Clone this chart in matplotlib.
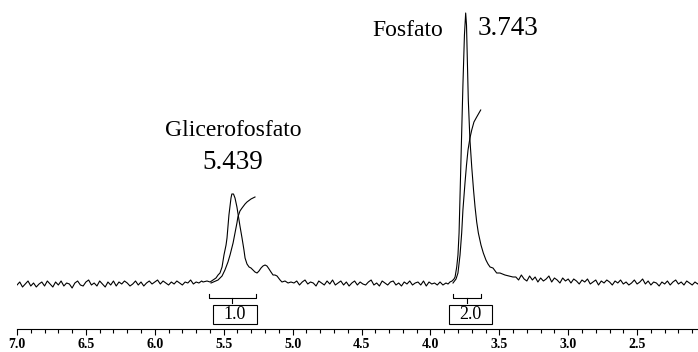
import numpy as np
import matplotlib
matplotlib.use('Agg')
import matplotlib.pyplot as plt
from matplotlib.patches import Rectangle
from matplotlib.ticker import MultipleLocator, FormatStrFormatter

# -----------------------------
# data (intensity in arbitrary units, baseline ~ 0)
# -----------------------------
step = 0.02  # ppm sampling of the flat baseline pieces

# baseline 7.00 -> 5.66 ppm
base_a = [0, 3, -2, 1, 4, -1, 2, -2, 1, 3, -1, 4, 1, -2, 3, 0, 4, -1, 2, 1,
          -3, 2, 4, 0, -1, 3, 5, 0, 2, -1, 4, 1, -2, 3, 0, 4, -1, 3, 1, 4,
          2, -1, 1, 4, 0, 3, -1, 2, 4, 1, 3, 5, 1, 4, 2, 0, 3, 1, 4, 2,
          0, 3, 2, 5, 1, 3, 2, 4]
start_a = 7.0

# glicerofosfato region
glic_ppm = [5.650, 5.621, 5.599, 5.578, 5.556, 5.541, 5.527, 5.512, 5.498, 5.483,
            5.476, 5.462, 5.447, 5.441, 5.429, 5.418, 5.404, 5.397, 5.382, 5.367,
            5.353, 5.345, 5.331, 5.316, 5.302, 5.287, 5.273, 5.258, 5.244, 5.229,
            5.215, 5.200, 5.186, 5.171, 5.157, 5.142, 5.128, 5.113, 5.091, 5.077,
            5.055, 5.033, 5.012]
glic_int = [3, 4, 3, 5, 7, 10, 12, 18, 30, 40,
            47, 70, 87, 91, 91, 87, 78, 72, 59, 47,
            35, 27, 21, 18, 17, 15, 13, 12, 14, 17,
            19, 20, 19, 16, 13, 10, 10, 9, 5, 3,
            4, 2, 3]

# baseline 4.99 -> 3.93 ppm
base_c = [2, 4, 0, 3, 5, 1, 3, 2, -1, 4, 2, 0, 4, 1, 5, 0, 2, 4, 0, 3,
          -1, 2, 4, 0, 3, 1, 0, 3, 5, 0, 2, -1, 4, 2, 0, 3, 4, 0, 2, -1,
          3, 1, 4, 0, 2, 3, 0, 4, -1, 3, 1, 2, 0, 3]
start_c = 4.99

# fosfato region
fosf_ppm = [3.909, 3.887, 3.872, 3.858, 3.843, 3.829, 3.821, 3.809, 3.800, 3.792,
            3.782, 3.773, 3.764, 3.753, 3.744, 3.738, 3.731, 3.725, 3.713, 3.700,
            3.687, 3.676, 3.664, 3.652, 3.633, 3.616, 3.597, 3.582, 3.567, 3.546,
            3.519, 3.495, 3.459, 3.401]
fosf_int = [0, 2, 1, 3, 4, 6, 8, 18, 30, 52,
            105, 152, 200, 250, 272, 260, 220, 185, 145, 118,
            95, 78, 63, 52, 40, 32, 25, 21, 18, 17,
            12, 12, 10, 8]

# baseline 3.38 -> 2.04 ppm
base_e = [8, 5, 10, 6, 4, 9, 5, 8, 3, 7, 4, 6, 9, 3, 7, 5, 2, 7, 4, 6,
          2, 6, 4, 1, 5, 3, 6, 1, 3, 5, 0, 4, 2, 5, 3, 0, 4, 2, 5, 1,
          3, 0, 2, 5, 1, 3, 6, 1, 4, 0, 3, 2, -1, 3, 1, 4, 0, 3, 5, 1,
          3, 0, 4, 2, 0, 3, 1, 4]
start_e = 3.38

# integral curves
integ_glic_ppm = [5.592, 5.541, 5.512, 5.491, 5.469, 5.454, 5.432, 5.418, 5.404, 5.397,
                  5.382, 5.367, 5.345, 5.331, 5.302, 5.273]
integ_glic = [2, 5, 9, 15, 23, 30, 42, 52, 62, 68, 74, 77, 81, 83, 86, 88]
integ_fosf_ppm = [3.836, 3.814, 3.800, 3.785, 3.773, 3.764, 3.749, 3.738, 3.727, 3.713,
                  3.700, 3.684, 3.664, 3.635]
integ_fosf = [2, 6, 12, 30, 52, 75, 102, 120, 135, 147, 155, 163, 168, 175]

# integral regions and values
integ_ranges = [(5.607, 5.266), (3.836, 3.633)]
integ_labels = ['1.0', '2.0']

# peak labels
peak_names = ['Glicerofosfato', 'Fosfato']
peak_shifts = ['5.439', '3.743']

# -----------------------------
# assemble spectrum
# -----------------------------
ppm = np.concatenate([start_a - step * np.arange(len(base_a)), glic_ppm,
                      start_c - step * np.arange(len(base_c)), fosf_ppm,
                      start_e - step * np.arange(len(base_e))])
inten = np.concatenate([base_a, glic_int, base_c, fosf_int, base_e])

# -----------------------------
# plot
# -----------------------------
plt.rcParams['font.family'] = ['Liberation Serif', 'DejaVu Serif']

fig = plt.figure(figsize=(6.98, 3.52), dpi=100)
ax = fig.add_axes([17 / 698, 23 / 352, 681 / 698, 329 / 352])
ax.set_xlim(7.0, 7.0 - 681 / 137.8)
ax.set_ylim(-44, 285)

lw = 0.8
ax.plot(ppm, inten, color='black', lw=lw)
ax.plot(integ_glic_ppm, integ_glic, color='black', lw=lw)
ax.plot(integ_fosf_ppm, integ_fosf, color='black', lw=lw)

# integral brackets + boxes
box_w = [0.32, 0.31]
box_x = [5.578, 3.865]
for (a, b), lab, bx, bw in zip(integ_ranges, integ_labels, box_x, box_w):
    ax.plot([a, a, b, b], [-9, -13, -13, -9], color='black', lw=lw)
    mid = (a + b) / 2
    ax.plot([mid, mid], [-13, -18], color='black', lw=lw)
    ax.add_patch(Rectangle((bx, -39), -bw, 19, fill=False, ec='black', lw=lw))
    ax.text(bx - bw / 2, -29.5, lab, ha='center', va='center', fontsize=13)

# peak labels
ax.text(5.429, 149, peak_names[0], ha='center', va='baseline', fontsize=17)
ax.text(5.433, 116, peak_shifts[0], ha='center', va='baseline', fontsize=19.5)
ax.text(4.163, 249, peak_names[1], ha='center', va='baseline', fontsize=17)
ax.text(3.437, 250, peak_shifts[1], ha='center', va='baseline', fontsize=19.5)

# axis styling
for s in ['left', 'right', 'top']:
    ax.spines[s].set_visible(False)
ax.spines['bottom'].set_linewidth(0.8)
ax.set_yticks([])
ax.xaxis.set_major_locator(MultipleLocator(0.5))
ax.xaxis.set_minor_locator(MultipleLocator(0.1))
ax.xaxis.set_major_formatter(FormatStrFormatter('%.1f'))
ax.tick_params(axis='x', which='major', length=6 * 0.72, width=0.8, pad=2,
               labelsize=10)
ax.tick_params(axis='x', which='minor', length=4 * 0.72, width=0.8)
for t in ax.get_xticklabels():
    t.set_fontweight('bold')

fig.savefig('out.png', dpi=100)
